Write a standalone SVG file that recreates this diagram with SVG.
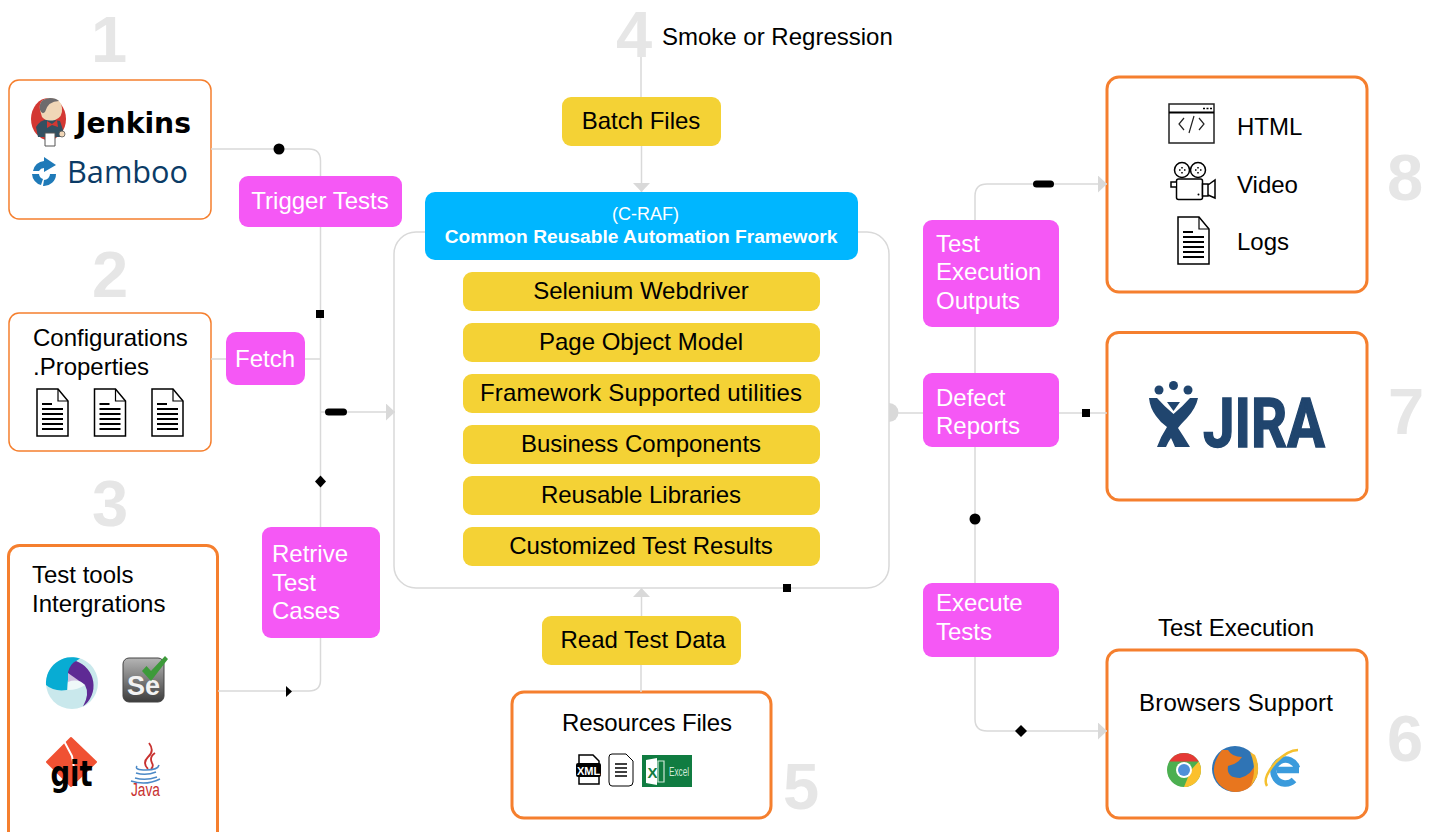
<svg xmlns="http://www.w3.org/2000/svg" width="1435" height="832" viewBox="0 0 1435 832">
<style>
text{font-family:"Liberation Sans",Arial,sans-serif;fill:#000}
.t{font-size:24px}
.c{text-anchor:middle}
.w{fill:#fff}
.n{font-size:65px;font-weight:700;fill:#e6e6e6}
.box{fill:#fff;stroke:#f57f2e}
.thin{stroke-width:1.5}
.thick{stroke-width:3}
.y{fill:#f4d235}
.m{fill:#f558f5}
.conn{fill:none;stroke:#d9d9d9;stroke-width:1.5}
.ah{fill:#d9d9d9}
</style>
<defs>
<g id="doc"><path d="M1 1H22L32 13V48H1Z" fill="#fff" stroke="#000" stroke-width="1.5"/><path d="M22 1V13H32" fill="none" stroke="#000" stroke-width="1.2"/><path d="M6 16H16M6 21H27M6 26H27M6 31H27M6 36H27M6 41H27" stroke="#000" stroke-width="1.8"/></g>
<marker id="arrow" markerUnits="userSpaceOnUse" markerWidth="10" markerHeight="17" refX="9" refY="8.500" orient="auto"><path class="ah" d="M0 0L9 8.500L0 17Z"/></marker>
<linearGradient id="seg" x1="0" y1="0" x2="0" y2="1"><stop offset="0" stop-color="#b5b5b5"/><stop offset="0.5" stop-color="#7a7a7a"/><stop offset="1" stop-color="#3c3c3c"/></linearGradient>
</defs>
<g id="numbers">
<text class="n c" x="109" y="62">1</text>
<text class="n c" x="110" y="297">2</text>
<text class="n c" x="110" y="526">3</text>
<text class="n c" x="634" y="57">4</text>
<text class="n c" x="801" y="809">5</text>
<text class="n c" x="1405" y="761">6</text>
<text class="n c" x="1406" y="434">7</text>
<text class="n c" x="1405" y="200">8</text>
</g>
<g id="node-ci">
<rect class="box thin" x="9" y="80" width="202" height="139" rx="10"/>
<ellipse cx="48.500" cy="119" rx="17.500" ry="21" fill="#d33833"/>
<path d="M36 127Q40 120 48 119L60 121L63 130L62 137H38Z" fill="#335061"/>
<path d="M40 110Q38 99 50 98Q61 98 62 108Q63 117 55 120Q46 122 42 117Z" fill="#f0d6b7"/>
<path d="M40 110Q38 99 50 98Q56 98 59 101Q48 101 45 112Q42 115 40 110Z" fill="#6d6b6d"/>
<path d="M47 121L52 124L57 120L58 127L52 125L47 128Z" fill="#d33833"/>
<path d="M45 133H55V146H45Z" fill="#fff" stroke="#555" stroke-width="1"/>
<circle cx="62" cy="134" r="3" fill="#f0d6b7" stroke="#555" stroke-width="0.800"/>
<text x="76" y="133" style="font-family:'DejaVu Sans',sans-serif;font-weight:700;font-size:29px" textLength="115" lengthAdjust="spacingAndGlyphs">Jenkins</text>
<path d="M33 171A12 12 0 0 1 44 161V157L56 165L44 172V168A6 6 0 0 0 39 171Z" fill="#1f7ab8"/>
<path d="M32 174H39A6 6 0 0 0 43 179L41 185A12 12 0 0 1 32 174ZM44 180A6 6 0 0 0 50 174H56A12 12 0 0 1 43 186Z" fill="#1f7ab8"/>
<text x="67" y="183" style="font-family:'Open Sans',sans-serif;font-size:31px;fill:#0b3b66" textLength="121" lengthAdjust="spacingAndGlyphs">Bamboo</text>
</g>
<g id="node-config">
<rect class="box thin" x="9" y="313" width="202" height="138" rx="10"/>
<text class="t" x="33" y="346">Configurations</text>
<text class="t" x="33" y="375">.Properties</text>
<use href="#doc" x="36" y="388"/>
<use href="#doc" x="93.500" y="388"/>
<use href="#doc" x="151" y="388"/>
</g>
<g id="node-tools">
<rect class="box thick" x="8.500" y="545.500" width="209" height="300" rx="11"/>
<text class="t" x="32" y="583">Test tools</text>
<text class="t" x="32" y="612">Intergrations</text>
<circle cx="72" cy="683" r="26" fill="#c9e8ec"/>
<path d="M46 685A26 26 0 0 1 80 658.500Q68 664 67 690Q54 692 46 685Z" fill="#08acd3"/>
<path d="M68 672Q70 664 76 661A26 26 0 0 1 83 706.500Q90 694 85 685Q78 678 68 682Z" fill="#5e2a94"/>
<path d="M68 673L85 685Q78 690 68 690Z" fill="#fff" opacity="0.700"/>
<rect x="123" y="658" width="41" height="44" rx="6" fill="url(#seg)" stroke="#444" stroke-width="1"/>
<text x="127" y="695" style="font-size:27px;font-weight:700;fill:#f2f2f2">Se</text>
<path d="M142 671L146.500 666L151 671L165 656L168 659L151 681Z" fill="#3d9a3a"/>
<path d="M71 738L96 762L71 786L47 762Z" fill="#f05133" stroke="#f05133" stroke-width="2" stroke-linejoin="round"/>
<path d="M64 741L72 756L74 768" fill="none" stroke="#fff" stroke-width="2"/>
<text x="71.500" y="786" class="c" style="font-family:'DejaVu Sans',sans-serif;font-size:36px;font-weight:700" textLength="42" lengthAdjust="spacingAndGlyphs">git</text>
<path d="M149 743Q155 751 148 757Q142 763 148 769M155 753Q149 757 152 763Q154 766 151 769" fill="none" stroke="#c8312f" stroke-width="1.800"/>
<path d="M137 766Q134 770 146 770Q158 770 159 765M136 773Q146 776 156 772M135 778Q146 781 157 777M131 781Q146 786 160 779" fill="none" stroke="#4b89c7" stroke-width="1.500"/>
<text x="131" y="796" style="font-size:18px;fill:#c8312f" textLength="29" lengthAdjust="spacingAndGlyphs">Java</text>
</g>
<g id="node-framework">
<rect x="394" y="232" width="495" height="356" rx="22" fill="#fff" stroke="#d9d9d9" stroke-width="1.500"/>
<rect x="425" y="192" width="433" height="68" rx="10" fill="#00b6ff"/>
<text class="c w" x="645.500" y="220" style="font-size:18px">(C-RAF)</text>
<text class="c w" x="641" y="243" style="font-size:19.200px;font-weight:700">Common Reusable Automation Framework</text>
<rect class="y" x="463" y="272" width="357" height="39" rx="9"/>
<text class="t c" x="641" y="299">Selenium Webdriver</text>
<rect class="y" x="463" y="323" width="357" height="39" rx="9"/>
<text class="t c" x="641" y="350">Page Object Model</text>
<rect class="y" x="463" y="374" width="357" height="39" rx="9"/>
<text class="t c" x="641" y="401" textLength="322">Framework Supported utilities</text>
<rect class="y" x="463" y="425" width="357" height="39" rx="9"/>
<text class="t c" x="641" y="452">Business Components</text>
<rect class="y" x="463" y="476" width="357" height="39" rx="9"/>
<text class="t c" x="641" y="503">Reusable Libraries</text>
<rect class="y" x="463" y="527" width="357" height="39" rx="9"/>
<text class="t c" x="641" y="554">Customized Test Results</text>
</g>
<g id="node-smoke"><text class="t" x="662" y="45">Smoke or Regression</text></g>
<g id="node-batch">
<rect class="y" x="562" y="97" width="159" height="49" rx="9"/>
<text class="t c" x="641" y="129">Batch Files</text>
</g>
<g id="node-read">
<rect class="y" x="542" y="616" width="199" height="49" rx="9"/>
<text class="t c" x="643" y="648">Read Test Data</text>
</g>
<g id="node-resources">
<rect class="box thick" x="512" y="692" width="259" height="126" rx="12"/>
<text class="t" x="562" y="731" textLength="170">Resources Files</text>
<path d="M579 755H593L599 761V784H579Z" fill="#fff" stroke="#000" stroke-width="1.500"/>
<rect x="576" y="763" width="25" height="14" rx="2"/>
<text class="c w" x="588.500" y="775" style="font-size:11px;font-weight:700">XML</text>
<path d="M612 754H626L633 761V782Q633 786 629 786H612Q609 786 609 782V757Q609 754 612 754Z" fill="#fff" stroke="#000" stroke-width="1"/>
<path d="M615 764H627M615 768H627M615 772H627M615 776H627" stroke="#000" stroke-width="1.500"/>
<rect x="642" y="755" width="50" height="32" fill="#107c41"/>
<path d="M646 760L657 758V785L646 783Z" fill="#fff"/>
<text x="647.500" y="778" style="font-size:15px;fill:#107c41;font-weight:700">X</text>
<path d="M658 761H664V782H658Z" fill="none" stroke="#cfe8d8" stroke-width="1.200"/>
<text x="669" y="776" style="font-size:13px;fill:#cfe8d8" textLength="20" lengthAdjust="spacingAndGlyphs">Excel</text>
</g>
<g id="node-trigger"><rect class="m" x="239" y="176" width="163" height="51" rx="9"/><text class="t c w" x="320" y="209">Trigger Tests</text></g>
<g id="node-fetch"><rect class="m" x="226" y="332" width="79" height="53" rx="10"/><text class="t c w" x="265" y="367">Fetch</text></g>
<g id="node-retrive"><rect class="m" x="262" y="527" width="118" height="111" rx="9"/><text class="t w" x="272" y="562">Retrive</text><text class="t w" x="272" y="591">Test</text><text class="t w" x="272" y="619">Cases</text></g>
<g id="node-outputs"><rect class="m" x="923" y="220" width="136" height="107" rx="9"/><text class="t w" x="936" y="252">Test</text><text class="t w" x="936" y="280">Execution</text><text class="t w" x="936" y="309">Outputs</text></g>
<g id="node-defect"><rect class="m" x="923" y="373" width="136" height="74" rx="9"/><text class="t w" x="936" y="406">Defect</text><text class="t w" x="936" y="434">Reports</text></g>
<g id="node-execute"><rect class="m" x="923" y="583" width="136" height="74" rx="9"/><text class="t w" x="936" y="611">Execute</text><text class="t w" x="936" y="640">Tests</text></g>
<g id="node-outputs-box">
<rect class="box thick" x="1107" y="77" width="260" height="215" rx="12"/>
<rect x="1169" y="104" width="45" height="39" fill="#fff" stroke="#222" stroke-width="1.500"/>
<path d="M1169 112.500H1214" stroke="#000" stroke-width="2"/>
<path d="M1203 108.500H1205M1206.500 108.500H1208.500M1210 108.500H1212" stroke="#000" stroke-width="1.500"/>
<path d="M1184 118L1179 124L1184 130M1199 118L1204 124L1199 130M1194 116L1189 133" fill="none" stroke="#222" stroke-width="1.200"/>
<text class="t" x="1237" y="135">HTML</text>
<circle cx="1182" cy="170" r="7.500" fill="#fff" stroke="#000" stroke-width="1.500"/>
<circle cx="1198" cy="170" r="7.500" fill="#fff" stroke="#000" stroke-width="1.500"/>
<path d="M1182 167v1.500M1179 170h1.500M1184 170h1.500M1182 172v1.500M1198 167v1.500M1195 170h1.500M1200 170h1.500M1198 172v1.500" stroke="#000" stroke-width="1.500"/>
<rect x="1176.500" y="179" width="26" height="20.500" rx="2" fill="#fff" stroke="#000" stroke-width="1.500"/>
<path d="M1176 182H1171V187L1176 187M1202.500 184H1208V196H1202.500ZM1208 185L1215 180V198L1208 195" fill="#fff" stroke="#000" stroke-width="1.500"/>
<circle cx="1198.500" cy="194.500" r="1" fill="#000"/>
<text class="t" x="1237" y="193">Video</text>
<use href="#doc" x="1177" y="216"/>
<text class="t" x="1237" y="250">Logs</text>
</g>
<g id="node-jira">
<rect class="box thick" x="1107" y="332.500" width="260" height="167.500" rx="12"/>
<g fill="#20456e">
<circle cx="1159" cy="390" r="4.500"/><circle cx="1173.500" cy="385.500" r="4.500"/><circle cx="1188" cy="390" r="4.500"/>
<path d="M1149 398H1157Q1164 406 1173.500 414Q1183 406 1190 398H1198Q1196 408 1187 418Q1181 424 1178 428Q1184 437 1190 447H1175Q1173 442 1171 438Q1168 442 1166 447H1157Q1161 436 1167 427Q1160 422 1156 416Q1150 408 1149 398Z"/>
<path d="M1167 402H1180L1173.500 411Z"/>
</g>
<text x="1203" y="447" style="font-family:Roboto,sans-serif;font-weight:700;font-size:69px;fill:#20456e;stroke:#20456e;stroke-width:1.500" textLength="122" lengthAdjust="spacingAndGlyphs">JIRA</text>
</g>
<g id="node-browsers">
<text class="t c" x="1236" y="636">Test Execution</text>
<rect class="box thick" x="1107" y="650" width="260" height="168" rx="12"/>
<text class="t c" x="1236" y="711" textLength="194">Browsers Support</text>
<circle cx="1184" cy="770" r="17" fill="#4caf50"/>
<path d="M1169.300 761.500A17 17 0 0 1 1198.700 761.500H1184Z" fill="#e53935"/>
<path d="M1198.700 761.500A17 17 0 0 1 1184 787L1191 770Z" fill="#fbc02d"/>
<circle cx="1184" cy="770" r="8" fill="#fff"/><circle cx="1184" cy="770" r="6" fill="#4f8fd9"/>
<circle cx="1235" cy="769" r="23" fill="#2f74b5"/>
<path d="M1222 750Q1213 762 1214 772A22 22 0 0 0 1252 785Q1259 775 1256 762Q1252 775 1240 778Q1226 778 1228 766Q1238 764 1242 757Q1232 757 1228 750Z" fill="#e8761e"/>
<path d="M1255 755Q1260 765 1257 777L1250 787Q1258 770 1250 752Z" fill="#f5b82e"/>
<path d="M1277 770H1299M1297 768A12 12 0 1 0 1294 780" fill="none" stroke="#3a9bdc" stroke-width="6.500"/>
<path d="M1267 786Q1262 778 1276 762Q1288 750 1298 750" fill="none" stroke="#f5c02e" stroke-width="2.500"/>
</g>
<g id="connectors">
<path class="conn" d="M211 149H309Q320.500 149 320.500 161V176M320.500 227V527M320.500 638V680Q320.500 691 309 691H218"/>
<path class="conn" d="M211 359H226M305 359H320.500"/>
<path class="conn" d="M320.500 412H395" marker-end="url(#arrow)"/>
<path class="conn" d="M641 57V97"/>
<path class="conn" d="M641.500 146V192" marker-end="url(#arrow)"/>
<path class="conn" d="M641 692V665"/>
<path class="conn" d="M641.500 616V588" marker-end="url(#arrow)"/>
<path class="ah" d="M889 403A9.500 9.500 0 0 1 889 422Z"/>
<path class="conn" d="M889 413H923M1059 413H1107"/>
<path class="conn" d="M975 220V196Q975 184 987 184H1107" marker-end="url(#arrow)"/>
<path class="conn" d="M975 327V373M975 447V583"/>
<path class="conn" d="M975 657V719Q975 731 987 731H1107" marker-end="url(#arrow)"/>
<circle cx="279" cy="149" r="5.500"/>
<rect x="316" y="310" width="8" height="8"/>
<rect x="325" y="408.500" width="22" height="7" rx="3.500"/>
<path d="M320.500 475.500L326 481.500L320.500 487.500L315 481.500Z"/>
<path d="M286 686L292 691.500L286 697Z"/>
<rect x="783" y="584" width="8" height="8"/>
<rect x="1033" y="180.500" width="21" height="7" rx="3.500"/>
<rect x="1082" y="409" width="8" height="8"/>
<circle cx="975" cy="519" r="5.500"/>
<path d="M1021 725L1027 731L1021 737L1015 731Z"/>
</g>
</svg>
